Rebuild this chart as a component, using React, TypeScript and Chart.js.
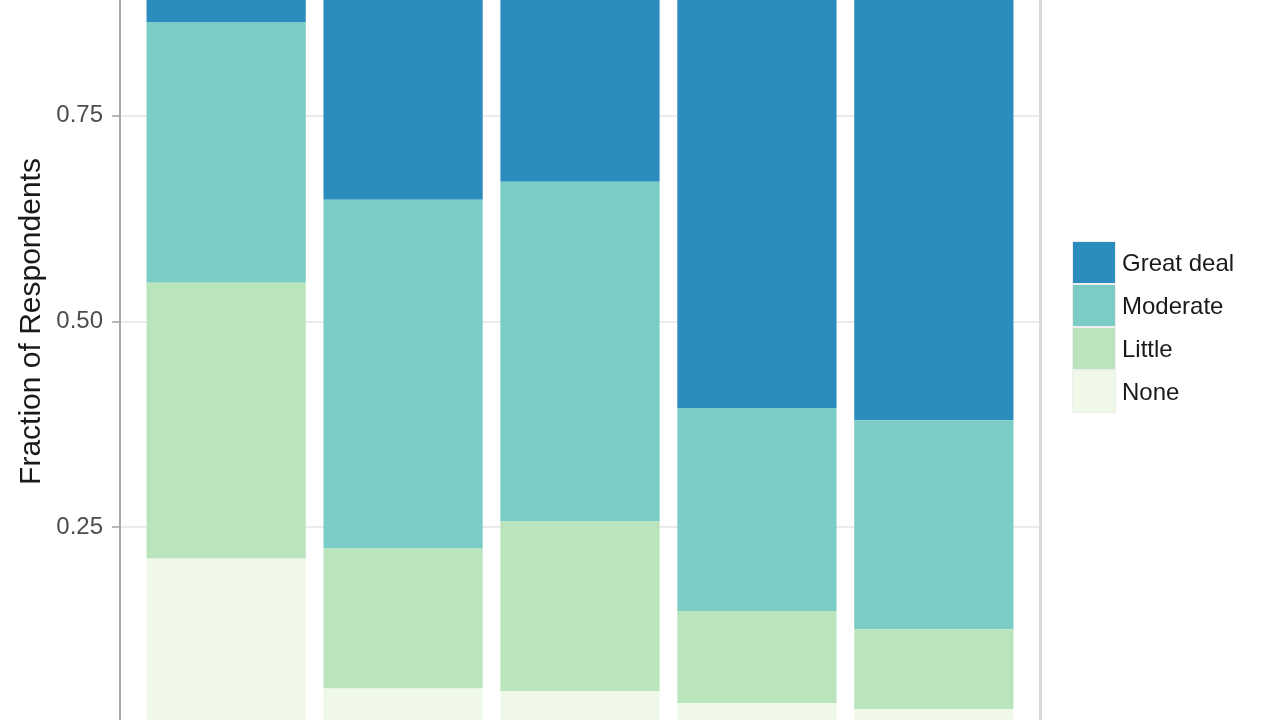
import { useEffect, useRef } from 'react'
import { Chart, registerables } from 'chart.js'

Chart.register(...registerables)

// x labels sit below the visible crop, so only their order matters here
const categories = ['Group 1', 'Group 2', 'Group 3', 'Group 4', 'Group 5']
const levels = ['None', 'Little', 'Moderate', 'Great deal']

const none = [0.212, 0.054, 0.051, 0.036, 0.029]
const little = [0.335, 0.17, 0.206, 0.112, 0.097]
const moderate = [0.317, 0.424, 0.413, 0.247, 0.254]
const greatDeal = [0.136, 0.352, 0.33, 0.605, 0.62]

const yTicks = [0, 0.25, 0.5, 0.75, 1]
const colors = ['#f0f9e8', '#bae4bc', '#7bccc4', '#2b8cbe']

const FONT = "'Liberation Sans', Arial, Helvetica, sans-serif"

export default function App() {
  const canvasRef = useRef<HTMLCanvasElement>(null)
  const chartRef = useRef<Chart | null>(null)

  useEffect(() => {
    document.body.style.margin = '0'
    if (!canvasRef.current) return
    chartRef.current?.destroy()

    const series = [none, little, moderate, greatDeal]
    const fixWidth = (w: number) => (s: any) => {
      s.width = w
      s.paddingTop = 0
      s.paddingBottom = 0
    }

    chartRef.current = new Chart(canvasRef.current, {
      type: 'bar',
      data: {
        datasets: series.map((vals, i) => ({
          label: levels[i],
          data: vals.map((v, j) => ({ x: j + 1, y: v, c: categories[j] })),
          backgroundColor: colors[i],
          borderWidth: 0,
          categoryPercentage: 1,
          barPercentage: 0.9,
        })),
      },
      options: {
        animation: false,
        responsive: true,
        maintainAspectRatio: false,
        layout: { padding: 0 },
        plugins: { legend: { display: false }, tooltip: { enabled: false } },
        scales: {
          x: {
            type: 'linear',
            min: 0.4,
            max: 5.6,
            offset: false,
            stacked: true,
            display: false,
            // one tick per category so the bar width follows the category spacing
            afterBuildTicks: (s: any) => { s.ticks = categories.map((_, i) => ({ value: i + 1 })) },
          },
          y: {
            position: 'left',
            min: -0.05,
            max: 1.05,
            stacked: true,
            afterBuildTicks: (s: any) => { s.ticks = yTicks.map(value => ({ value })) },
            afterFit: fixWidth(120),
            ticks: {
              callback: (v: any) => Number(v).toFixed(2),
              color: '#4d4d4d',
              font: { size: 24, family: FONT },
              padding: 9,
            },
            grid: { color: '#ebebeb', lineWidth: 2, tickLength: 8, tickColor: '#b8b8b8', tickWidth: 2 },
            border: { color: '#a8a8a8', width: 2 },
            title: {
              display: true,
              text: 'Fraction of Respondents',
              color: '#1a1a1a',
              font: { size: 30, family: FONT },
              padding: { top: 14, bottom: 0 },
            },
          },
          yRight: {
            position: 'right',
            min: -0.05,
            max: 1.05,
            grid: { display: false },
            ticks: { display: false },
            border: { color: '#d9d9d9', width: 3 },
            afterFit: fixWidth(240),
          },
        },
      },
    })

    return () => chartRef.current?.destroy()
  }, [])

  const legendOrder = [3, 2, 1, 0]

  return (
    <div style={{ position: 'relative', width: 1280, height: 720, overflow: 'hidden', background: '#fff' }}>
      <div style={{ position: 'absolute', left: 0, top: -131, width: 1280, height: 905 }}>
        <canvas ref={canvasRef} />
      </div>
      <div style={{ position: 'absolute', left: 1072, top: 241 }}>
        {legendOrder.map(i => (
          <div key={levels[i]} style={{ display: 'flex', alignItems: 'center', height: 43 }}>
            <div
              style={{
                width: 44,
                height: 43,
                boxSizing: 'border-box',
                border: '1px solid #eeeeee',
                background: colors[i],
              }}
            />
            <span style={{ marginLeft: 6, fontFamily: FONT, fontSize: 24, color: '#1a1a1a' }}>{levels[i]}</span>
          </div>
        ))}
      </div>
    </div>
  )
}
